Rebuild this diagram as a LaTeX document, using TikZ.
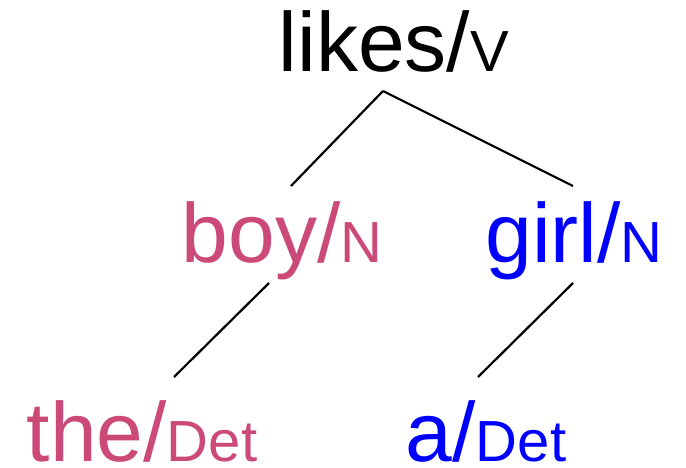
\documentclass[tikz,border=0pt]{standalone}
\usepackage{fontspec}
\setmainfont{Liberation Sans}
\usepackage{xcolor}
\usepackage{tikz}
\definecolor{rosepink}{HTML}{CC4A78}
\definecolor{pureblue}{HTML}{0000FF}
\newcommand{\postag}[1]{{\fontsize{58}{58}\selectfont #1}}

\begin{document}
\begin{tikzpicture}[
    x=1pt, y=-1pt,
    word/.style={inner sep=0pt, anchor=base, font=\fontsize{84}{84}\selectfont},
    branch/.style={line width=2.2pt, draw=black}
  ]
    \useasboundingbox (0,0) rectangle (686,468);

    \node[word]                 (likes) at (394,72)  {likes/\postag{V}};
    \node[word, text=rosepink]  (boy)   at (282,262) {boy/\postag{N}};
    \node[word, text=pureblue]  (girl)  at (574,262) {girl/\postag{N}};
    \node[word, text=rosepink]  (the)   at (142,461) {the/\postag{Det}};
    \node[word, text=pureblue]  (a)     at (486,461) {a/\postag{Det}};

    % branch ends, taken from the word nodes
    \coordinate (likes-foot) at ([shift={(-11,19)}]likes.base);
    \coordinate (boy-top)    at ([shift={(9,-76)}]boy.base);
    \coordinate (boy-foot)   at ([shift={(-13,21)}]boy.base);
    \coordinate (girl-top)   at ([shift={(-1,-76)}]girl.base);
    \coordinate (girl-foot)  at ([shift={(-1,21)}]girl.base);
    \coordinate (the-top)    at ([shift={(32,-84)}]the.base);
    \coordinate (a-top)      at ([shift={(-8,-84)}]a.base);

    \draw[branch] (likes-foot) -- (boy-top);
    \draw[branch] (likes-foot) -- (girl-top);
    \draw[branch] (boy-foot) -- (the-top);
    \draw[branch] (girl-foot) -- (a-top);
\end{tikzpicture}
\end{document}
